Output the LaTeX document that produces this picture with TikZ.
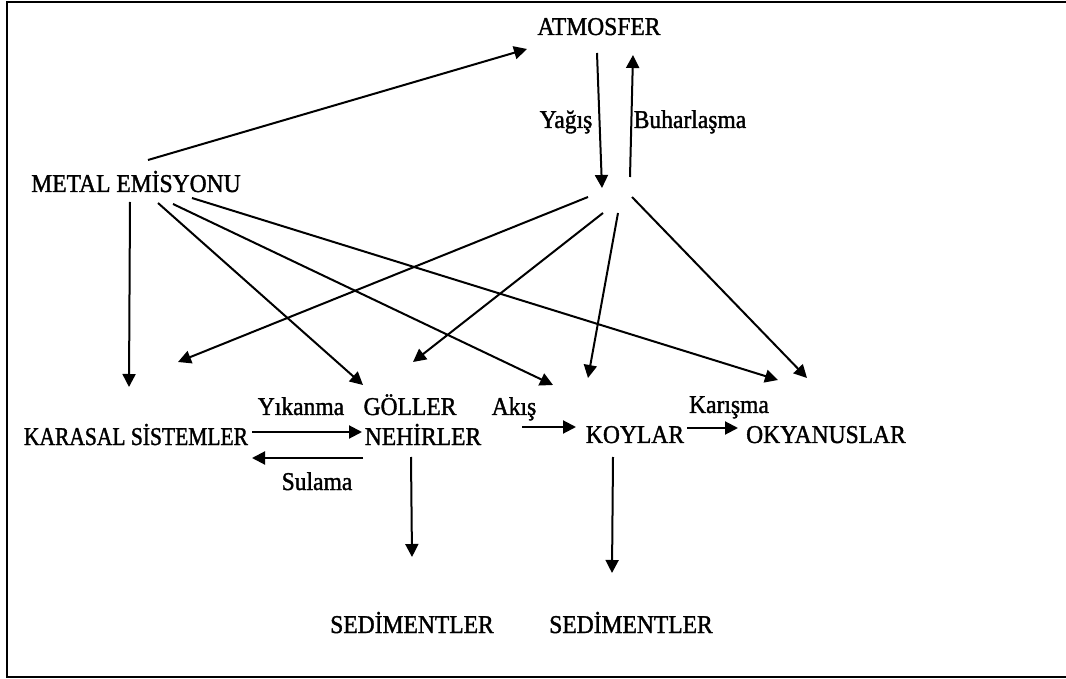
\documentclass[tikz,border=0pt]{standalone}
\usepackage{fontspec}
\setmainfont[FakeStretch=0.92,FakeBold=1.4]{Liberation Serif}
\newfontfamily\narrowserif[FakeStretch=0.84,FakeBold=1.4]{Liberation Serif}
\usetikzlibrary{arrows.meta}
\begin{document}
\begin{tikzpicture}[x=0.5pt,y=-0.5pt,
  lbl/.style={inner sep=0pt,anchor=base,font=\fontsize{12.8}{15}\selectfont},
  arr/.style={line width=1pt,-{Triangle[length=6.5pt,width=6.5pt]}},
  frame/.style={line width=1.4pt}]
\useasboundingbox (0,0) rectangle (1066,679);
\draw[frame] (1066,2) -- (7,2) -- (7,677) -- (1066,677);
% nodes
\node[lbl] (atm) at (599,35) {ATMOSFER};
\node[lbl] (yag) at (566,128) {Yağış};
\node[lbl] (buh) at (690,128) {Buharlaşma};
\node[lbl] (emis) at (136,192) {METAL EMİSYONU};
\node[lbl,font=\fontsize{12.8}{15}\narrowserif] (kar) at (136,445) {KARASAL SİSTEMLER};
\node[lbl] (yik) at (301,415) {Yıkanma};
\node[lbl] (gol) at (410,415) {GÖLLER};
\node[lbl] (aki) at (514,415) {Akış};
\node[lbl] (neh) at (423,445) {NEHİRLER};
\node[lbl] (koy) at (635,443) {KOYLAR};
\node[lbl] (kar2) at (729,413) {Karışma};
\node[lbl] (oky) at (826,443) {OKYANUSLAR};
\node[lbl] (sul) at (317,490) {Sulama};
\node[lbl] (sed1) at (412,633) {SEDİMENTLER};
\node[lbl] (sed2) at (631,633) {SEDİMENTLER};
% connector end points
\coordinate (emisA) at (148,160); \coordinate (atmIn) at (527,49);
\coordinate (atmOut) at (597,53); \coordinate (hubIn) at (602,188);
\coordinate (hubOut) at (630,177); \coordinate (atmBack) at (633,55);
\coordinate (emisB) at (130,202); \coordinate (karIn) at (129,387);
\coordinate (emisC) at (158,203); \coordinate (golIn) at (363,385);
\coordinate (emisD) at (173,204); \coordinate (koyIn) at (553,385);
\coordinate (emisE) at (192,198); \coordinate (okyIn) at (778,380);
\coordinate (hubA) at (588,197); \coordinate (karIn2) at (178,362);
\coordinate (hubB) at (603,213); \coordinate (golIn2) at (413,362);
\coordinate (hubC) at (618,213); \coordinate (koyIn2) at (588,378);
\coordinate (hubD) at (632,197); \coordinate (okyIn2) at (807,378);
\coordinate (yikS) at (252,432); \coordinate (yikE) at (362,432);
\coordinate (sulS) at (363,458); \coordinate (sulE) at (252,458);
\coordinate (akiS) at (522,427); \coordinate (akiE) at (576,427);
\coordinate (karS) at (687,428); \coordinate (karE) at (738,428);
\coordinate (nehS) at (411,457); \coordinate (nehE) at (412,557);
\coordinate (koyS) at (613,457); \coordinate (koyE) at (612,573);
% connectors
\draw[arr] (emisA) -- (atmIn);
\draw[arr] (atmOut) -- (hubIn);
\draw[arr] (hubOut) -- (atmBack);
\draw[arr] (emisB) -- (karIn);
\draw[arr] (emisC) -- (golIn);
\draw[arr] (emisD) -- (koyIn);
\draw[arr] (emisE) -- (okyIn);
\draw[arr] (hubA) -- (karIn2);
\draw[arr] (hubB) -- (golIn2);
\draw[arr] (hubC) -- (koyIn2);
\draw[arr] (hubD) -- (okyIn2);
\draw[arr] (yikS) -- (yikE);
\draw[arr] (sulS) -- (sulE);
\draw[arr] (akiS) -- (akiE);
\draw[arr] (karS) -- (karE);
\draw[arr] (nehS) -- (nehE);
\draw[arr] (koyS) -- (koyE);
\end{tikzpicture}
\end{document}
